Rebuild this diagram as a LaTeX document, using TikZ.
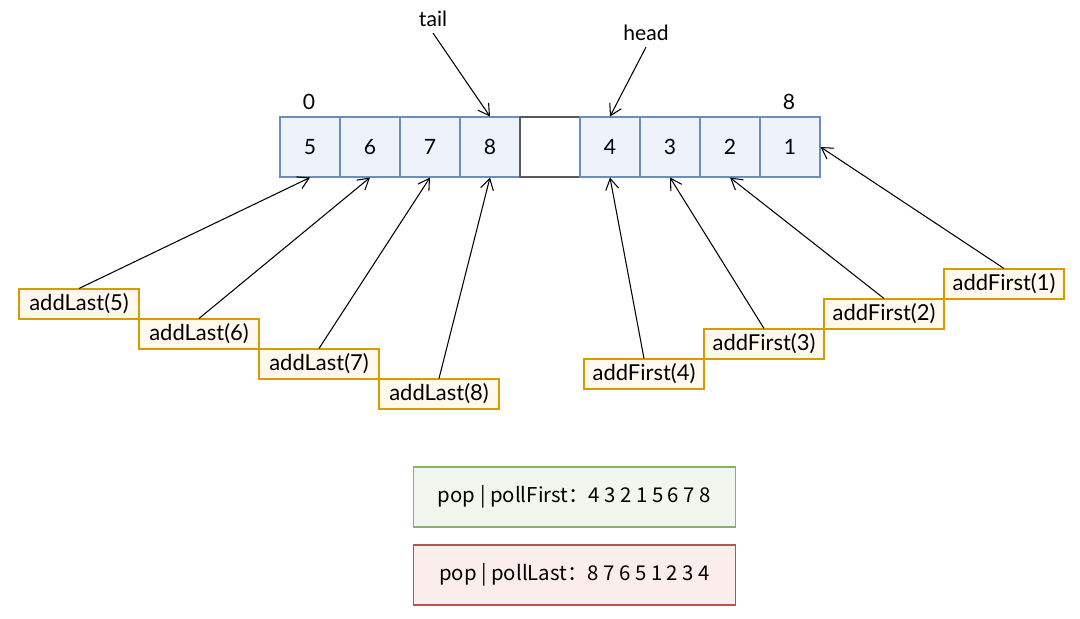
\documentclass[tikz,border=0pt]{standalone}
\usepackage{fontspec}
\setmainfont{Lato}
\newfontfamily\cjk{Noto Sans CJK SC}
\usetikzlibrary{arrows.meta}
\definecolor{bleu}{HTML}{6C8EBF}
\definecolor{bleuclair}{HTML}{EEF3FB}
\definecolor{ocre}{HTML}{D79B00}
\definecolor{ocreclair}{HTML}{FFF8EC}
\definecolor{vert}{HTML}{82B366}
\definecolor{vertclair}{HTML}{F1F7EE}
\definecolor{rouge}{HTML}{B85450}
\definecolor{rougeclair}{HTML}{FCEDED}

\begin{document}
\begin{tikzpicture}[x=0.02cm,y=-0.02cm,
  font=\fontsize{12}{14}\selectfont,
  cell/.style={rectangle,draw=bleu,fill=bleuclair,semithick,minimum size=1.2cm,inner sep=0pt},
  op/.style={rectangle,draw=ocre,fill=ocreclair,semithick,minimum width=2.4cm,minimum height=0.6cm,inner sep=0pt,font=\fontsize{12.5}{14}\selectfont},
  result/.style={rectangle,semithick,minimum width=6.46cm,minimum height=1.2cm,inner sep=0pt,font=\cjk\fontsize{11.6}{13}\selectfont},
  fleche/.style={-{Straight Barb[length=2.2mm,width=2.6mm]},black,semithick}]
  \useasboundingbox (0,0) rectangle (1080,619);

  % the array
  \node[cell] at (310,147) (c1) {5};
  \node[cell] at (370,147) (c2) {6};
  \node[cell] at (430,147) (c3) {7};
  \node[cell] at (490,147) (c4) {8};
  \node[cell,draw=black!65,fill=white] at (550,147) (c5) {};
  \node[cell] at (610,147) (c6) {4};
  \node[cell] at (670,147) (c7) {3};
  \node[cell] at (730,147) (c8) {2};
  \node[cell] at (790,147) (c9) {1};

  \node at (309,102) (i0) {0};
  \node at (789,102) (i8) {8};

  \node at (433,19) (tail) {tail};
  \node at (646,33) (head) {head};
  \draw[fleche] (tail.south) -- (c4.north);
  \draw[fleche] (head.south) -- (c6.north);

  % addLast
  \node[op] at (79,304) (l5) {addLast(5)};
  \node[op] at (199,334) (l6) {addLast(6)};
  \node[op] at (319,364) (l7) {addLast(7)};
  \node[op] at (439,394) (l8) {addLast(8)};

  \draw[fleche] (l5.north) -- (c1.south);
  \draw[fleche] (l6.north) -- (c2.south);
  \draw[fleche] (l7.north) -- (c3.south);
  \draw[fleche] (l8.north) -- (c4.south);

  % addFirst
  \node[op] at (644,374) (f4) {addFirst(4)};
  \node[op] at (764,344) (f3) {addFirst(3)};
  \node[op] at (884,314) (f2) {addFirst(2)};
  \node[op] at (1004,284) (f1) {addFirst(1)};

  \draw[fleche] (f4.north) -- (c6.south);
  \draw[fleche] (f3.north) -- (c7.south);
  \draw[fleche] (f2.north) -- (c8.south);
  \draw[fleche] (f1.north) -- (c9.east);

  % results
  \node[result,draw=vert,fill=vertclair] at (574.5,497) (first) {pop | pollFirst：4 3 2 1 5 6 7 8};
  \node[result,draw=rouge,fill=rougeclair] at (574.5,575) (last) {pop | pollLast：8 7 6 5 1 2 3 4};

\end{tikzpicture}
\end{document}
